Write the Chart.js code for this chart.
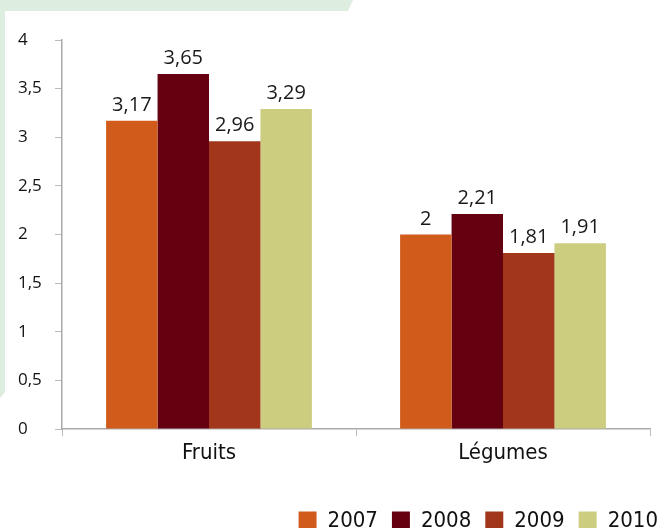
<!DOCTYPE html>
<html>
<head>
<meta charset="utf-8">
<script src="https://cdn.jsdelivr.net/npm/chart.js@4"></script>
<style>
  html, body { margin: 0; padding: 0; background: #fff; overflow: hidden; }
</style>
</head>
<body>
<canvas id="myChart" width="657" height="542"></canvas>
<script>
// data
const categories = ['Fruits', 'Légumes'];
const years = ['2007', '2008', '2009', '2010'];
const values2007 = [3.17, 2];
const values2008 = [3.65, 2.21];
const values2009 = [2.96, 1.81];
const values2010 = [3.29, 1.91];
const yTicks = [0, 0.5, 1, 1.5, 2, 2.5, 3, 3.5, 4];

const colors = ['#d05b1b', '#650011', '#a1361b', '#cccd7f'];
const seriesValues = [values2007, values2008, values2009, values2010];

const toComma = v => v.toString().replace('.', ',');

// light green decoration behind the chart
const backdrop = {
  id: 'backdrop',
  beforeDraw(chart) {
    const c = chart.ctx;
    c.save();
    c.fillStyle = '#ddede0';
    c.beginPath();
    c.moveTo(0, 0);
    c.lineTo(353, 0);
    c.lineTo(348, 11);
    c.lineTo(5, 11);
    c.lineTo(5, 392);
    c.lineTo(0, 398);
    c.closePath();
    c.fill();
    c.restore();
  }
};

// push the legend a bit to the right edge
const legendShift = {
  id: 'legendShift',
  afterLayout(chart) {
    chart.legend.left += 22;
    chart.legend.right += 22;
  }
};

// values above the bars
const valueLabels = {
  id: 'valueLabels',
  afterDatasetsDraw(chart) {
    const c = chart.ctx;
    c.save();
    c.font = '20px "Open Sans", "Noto Sans", sans-serif';
    c.fillStyle = '#1a1a1a';
    c.textAlign = 'center';
    c.textBaseline = 'alphabetic';
    chart.data.datasets.forEach((ds, i) => {
      chart.getDatasetMeta(i).data.forEach((bar, j) => {
        c.fillText(toComma(ds.data[j]), bar.x, bar.y - 10);
      });
    });
    c.restore();
  }
};

new Chart(document.getElementById('myChart'), {
  type: 'bar',
  data: {
    labels: categories,
    datasets: years.map((y, i) => ({
      label: y,
      data: seriesValues[i],
      backgroundColor: colors[i],
      borderWidth: 0,
      categoryPercentage: 0.7,
      barPercentage: 1
    }))
  },
  options: {
    responsive: false,
    animation: false,
    layout: { padding: { left: 18, right: 7, top: 40, bottom: 0 } },
    plugins: {
      tooltip: { enabled: false },
      legend: {
        position: 'bottom',
        align: 'end',
        labels: {
          boxWidth: 18,
          boxHeight: 19,
          padding: 14,
          color: '#111',
          font: { family: '"DejaVu Sans Condensed", "DejaVu Sans", sans-serif', size: 22 }
        }
      }
    },
    scales: {
      x: {
        afterFit: s => { s.height = 67; },
        grid: { drawOnChartArea: false, tickLength: 7, color: '#bbbbbb' },
        border: { color: '#aaaaaa', width: 1.5 },
        ticks: {
          padding: 4,
          color: '#111',
          font: { family: '"DejaVu Sans Condensed", "DejaVu Sans", sans-serif', size: 22 }
        }
      },
      y: {
        min: yTicks[0],
        max: yTicks[yTicks.length - 1],
        afterFit: s => { s.width = 44; },
        afterBuildTicks: s => { s.ticks = yTicks.map(v => ({ value: v })); },
        grid: { drawOnChartArea: false, tickLength: 7, color: '#bbbbbb' },
        border: { color: '#aaaaaa', width: 1.5 },
        ticks: {
          crossAlign: 'far',
          color: '#111',
          font: { family: '"Open Sans", "Noto Sans", sans-serif', size: 17 },
          callback: v => toComma(v)
        }
      }
    }
  },
  plugins: [backdrop, legendShift, valueLabels]
});
</script>
</body>
</html>
